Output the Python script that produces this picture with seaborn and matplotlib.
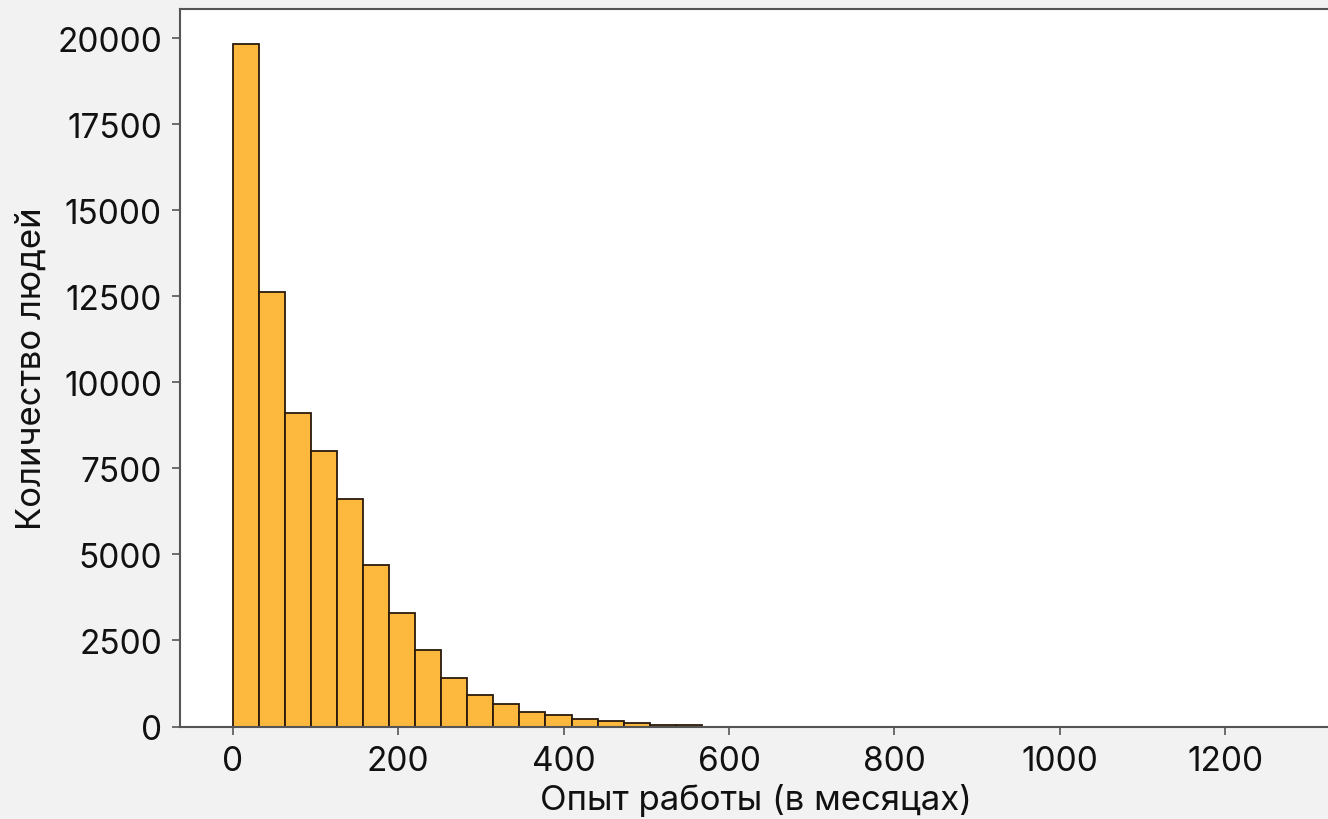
import numpy as np
import pandas as pd
import matplotlib
matplotlib.use('Agg')
import matplotlib.pyplot as plt
import seaborn as sns

# гистограмма опыта работы: 40 корзин от 0 до 1260 месяцев
bin_edges = list(np.linspace(0, 1260, 41))
counts = [19830, 12620, 9110, 8000, 6600, 4690, 3310, 2230, 1400, 910,
          640, 420, 330, 215, 150, 100, 55, 45] + [0] * 22

yticks = [0, 2500, 5000, 7500, 10000, 12500, 15000, 17500, 20000]
xticks = [0, 200, 400, 600, 800, 1000, 1200]

df = pd.DataFrame({'опыт': [(a + b) / 2 for a, b in zip(bin_edges[:-1], bin_edges[1:])],
                   'n': counts})

sns.set_style('ticks')
plt.rcParams['font.family'] = ['Inter', 'DejaVu Sans']

fig = plt.figure(figsize=(13.28, 8.2), dpi=100, facecolor='#f2f2f2')
# правый край оси уходит за край картинки, как в оригинале
ax = fig.add_axes([180 / 1328, (820 - 727.5) / 820, (1331 - 180) / 1328, (727.5 - 10) / 820])
ax.set_facecolor('white')

sns.histplot(data=df, x='опыт', weights='n', bins=bin_edges,
             color='#fdb93e', alpha=1, edgecolor='#2a1a0c', linewidth=1.3, ax=ax)

ax.set_xticks(xticks)
ax.set_yticks(yticks)
ax.set_xlim(-64, 1328)
ax.set_ylim(0, 20850)
ax.tick_params(labelsize=24, length=6, width=1.2, color='#555555',
               labelcolor='#111111', pad=7)
for s in ax.spines.values():
    s.set_color('#555555')
    s.set_linewidth(1.5)

ax.set_xlabel('Опыт работы (в месяцах)', fontsize=25, color='#111111', labelpad=5)
ax.set_ylabel('Количество людей', fontsize=25, color='#111111', labelpad=7)

fig.savefig('out.png', dpi=100, facecolor=fig.get_facecolor())
